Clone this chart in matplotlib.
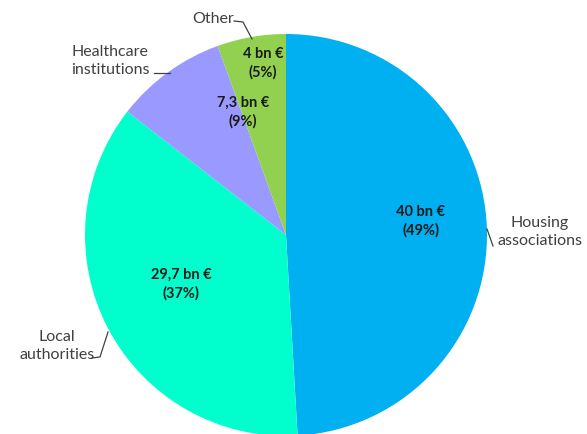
import matplotlib
matplotlib.use("Agg")
import matplotlib.pyplot as plt

# investment by owner, bn EUR (clockwise from 12 o'clock)
owners = ["Housing\nassociations", "Local\nauthorities", "Healthcare\ninstitutions", "Other"]
values = [40, 29.7, 7.3, 4.5]
value_labels = ["40 bn €", "29,7 bn €", "7,3 bn €", "4 bn €"]
pct_labels = ["(49%)", "(37%)", "(9%)", "(5%)"]
colors = ["#00B0F0", "#00FFCC", "#9999FF", "#92D050"]

W, H = 587, 435
cx, cy, R = 286, 236, 201

plt.rcParams["font.family"] = ["Lato", "DejaVu Sans"]

fig = plt.figure(figsize=(W / 100, H / 100), dpi=100)
ax = fig.add_axes([(cx - R) / W, (H - cy - R) / H, 2 * R / W, 2 * R / H])

ax.pie(values, colors=colors, startangle=90, counterclock=False, radius=1,
       wedgeprops=dict(linewidth=0))
ax.set_xlim(-1, 1)
ax.set_ylim(-1, 1)
ax.axis("off")


def px(x, y):
    # pixel position in the picture -> data coords of the pie axes
    return (x - cx) / R, (cy - y) / R


# labels inside the slices
inner_pos = [(421, 221), (181, 284), (243, 112), (263, 63)]
for (x, y), v, p in zip(inner_pos, value_labels, pct_labels):
    dx, dy = px(x, y)
    ax.text(dx, dy, v + "\n" + p, ha="center", va="center", fontsize=10.5,
            fontweight="bold", color="#1a1a1a", linespacing=1.35)

# outer category labels with leader lines
outer_pos = [(540, 232), (57, 346), (110, 61), (213, 19)]
leaders = [
    [(487, 230), (493, 247)],
    [(108, 333), (100, 358), (92, 359)],
    [(154, 74), (170, 74)],
    [(234, 22), (243, 23), (252, 40)],
]
for (x, y), name, pts in zip(outer_pos, owners, leaders):
    dx, dy = px(x, y)
    ax.text(dx, dy, name, ha="center", va="center", fontsize=11.5,
            color="#404040", linespacing=1.45)
    xs = [px(a, b)[0] for a, b in pts]
    ys = [px(a, b)[1] for a, b in pts]
    ax.plot(xs, ys, color="#404040", lw=0.9, clip_on=False)

fig.savefig("out.png", dpi=100)
